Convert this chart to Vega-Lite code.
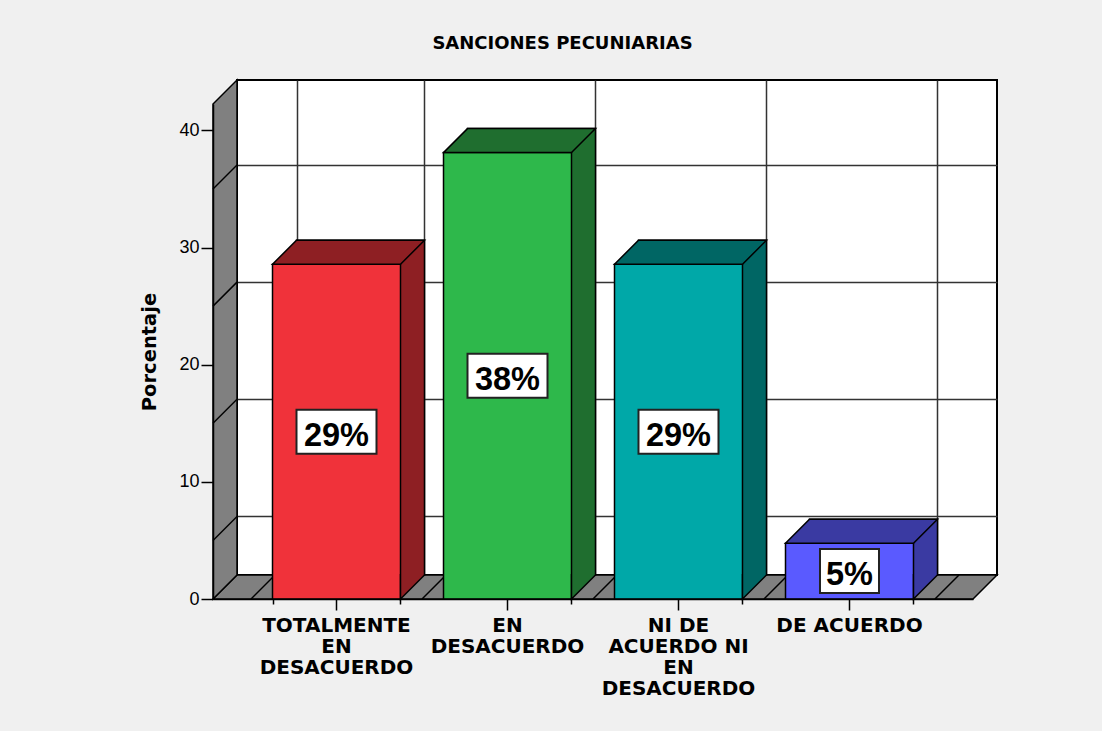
{
  "$schema": "https://vega.github.io/schema/vega-lite/v6.json",
  "width": 760,
  "height": 495,
  "autosize": "none",
  "padding": {"left": 237, "top": 80, "right": 105, "bottom": 156},
  "background": "#f0f0f0",
  "view": {"fill": "white", "stroke": "black", "strokeWidth": 2},
  "title": {"text": "SANCIONES PECUNIARIAS", "font": "DejaVu Sans", "fontSize": 18, "fontWeight": "bold", "color": "black", "anchor": "middle", "frame": "group", "dx": -54.5, "offset": 24},
  "datasets": {
    "respuestas": [
      {"respuesta": "TOTALMENTE EN DESACUERDO", "porcentaje": 28.57, "etiqueta": "29%"},
      {"respuesta": "EN DESACUERDO", "porcentaje": 38.1, "etiqueta": "38%"},
      {"respuesta": "NI DE ACUERDO NI EN DESACUERDO", "porcentaje": 28.57, "etiqueta": "29%"},
      {"respuesta": "DE ACUERDO", "porcentaje": 4.76, "etiqueta": "5%"}
    ],
    "niveles": [{"nivel": 5}, {"nivel": 15}, {"nivel": 25}, {"nivel": 35}],
    "marco": [{}]
  },
  "data": {"name": "respuestas"},
  "resolve": {"scale": {"y": "independent"}, "axis": {"x": "independent", "y": "independent"}},
  "layer": [
    {
      "data": {"name": "marco"},
      "mark": {"type": "point", "shape": "M0,0L760,0L736,24L-24,24Z", "size": 4, "filled": true, "fill": "#808080", "stroke": "black", "strokeWidth": 1.5, "opacity": 1},
      "encoding": {
        "x": {"value": 0},
        "y": {"datum": 0, "type": "quantitative", "scale": {"domain": [0, 42.25], "nice": false, "zero": true}, "axis": null}
      }
    },
    {
      "data": {"name": "marco"},
      "mark": {"type": "point", "shape": "M0,0L0,-495L-24,-471L-24,24Z", "size": 4, "filled": true, "fill": "#808080", "stroke": "black", "strokeWidth": 1.5, "opacity": 1},
      "encoding": {
        "x": {"value": 0},
        "y": {"datum": 0, "type": "quantitative", "scale": {"domain": [0, 42.25], "nice": false, "zero": true}, "axis": null}
      }
    },
    {
      "data": {"name": "niveles"},
      "mark": {"type": "point", "shape": "M0,0L-24,24", "size": 4, "filled": false, "stroke": "black", "strokeWidth": 1.5, "opacity": 1},
      "encoding": {
        "x": {"value": 0},
        "y": {"field": "nivel", "type": "quantitative", "scale": {"domain": [0, 42.25], "nice": false, "zero": true},
              "axis": {"orient": "left", "values": [5, 15, 25, 35], "grid": true, "gridColor": "#333333", "gridWidth": 1.5, "ticks": false, "labels": false, "domain": false, "title": null, "zindex": 0}}
      }
    },
    {
      "mark": {"type": "point", "shape": "M0,0L-24,24", "size": 4, "filled": false, "stroke": "black", "strokeWidth": 1.5, "opacity": 1, "xOffset": -85.5},
      "encoding": {
        "x": {"field": "respuesta", "type": "nominal",
              "scale": {"type": "band", "domain": ["TOTALMENTE EN DESACUERDO", "EN DESACUERDO", "NI DE ACUERDO NI EN DESACUERDO", "DE ACUERDO"], "paddingInner": 0.2515, "paddingOuter": 0.348},
              "axis": {"orient": "bottom", "tickBand": "extent", "grid": true, "gridColor": "#333333", "gridWidth": 1.5, "ticks": false, "labels": false, "domain": false, "title": null, "zindex": 0}},
        "y": {"datum": 0, "type": "quantitative", "scale": {"domain": [0, 42.25], "nice": false, "zero": true}, "axis": null}
      }
    },
    {
      "data": {"name": "marco"},
      "mark": {"type": "point", "shape": "M0,0L-24,24", "size": 4, "filled": false, "stroke": "black", "strokeWidth": 1.5, "opacity": 1, "xOffset": 85.5},
      "encoding": {
        "x": {"datum": "DE ACUERDO", "type": "nominal", "axis": null},
        "y": {"datum": 0, "type": "quantitative", "scale": {"domain": [0, 42.25], "nice": false, "zero": true}, "axis": null}
      }
    },
    {
      "mark": {"type": "bar", "stroke": "black", "strokeWidth": 1.5},
      "encoding": {
        "x": {"field": "respuesta", "type": "nominal",
              "axis": {"orient": "bottom", "tickBand": "extent", "ticks": true, "tickSize": 5, "tickColor": "black", "tickWidth": 1.5, "labels": false, "domain": false, "grid": false, "title": null, "translate": -23.5, "offset": 48, "zindex": 1}},
        "y": {"field": "porcentaje", "type": "quantitative", "scale": {"domain": [0, 42.25], "nice": false, "zero": true}, "axis": null},
        "y2": {"datum": 0},
        "fill": {"field": "respuesta", "type": "nominal", "scale": {"domain": ["TOTALMENTE EN DESACUERDO", "EN DESACUERDO", "NI DE ACUERDO NI EN DESACUERDO", "DE ACUERDO"], "range": ["#8e1f23", "#1f6e2f", "#006664", "#3a3aa2"]}, "legend": null}
      }
    },
    {
      "mark": {"type": "bar", "stroke": "black", "strokeWidth": 1.5, "xOffset": -24, "yOffset": 24, "y2Offset": 24},
      "encoding": {
        "x": {"field": "respuesta", "type": "nominal",
              "axis": {"orient": "bottom", "title": null, "translate": -23.5, "offset": 48, "tickSize": 11, "tickColor": "black", "tickWidth": 1.5, "domainColor": "black", "domainWidth": 1.5, "labelFont": "DejaVu Sans", "labelFontSize": 20, "labelFontWeight": "bold", "labelColor": "black", "labelPadding": 5, "labelLineHeight": 21, "labelAngle": 0, "labelLimit": 0, "grid": false, "zindex": 1,
                       "labelExpr": "datum.value == 'TOTALMENTE EN DESACUERDO' ? ['TOTALMENTE', 'EN', 'DESACUERDO'] : datum.value == 'EN DESACUERDO' ? ['EN', 'DESACUERDO'] : datum.value == 'NI DE ACUERDO NI EN DESACUERDO' ? ['NI DE', 'ACUERDO NI', 'EN', 'DESACUERDO'] : datum.label"}},
        "y": {"field": "porcentaje", "type": "quantitative", "scale": {"domain": [0, 42.25], "nice": false, "zero": true},
              "axis": {"orient": "left", "title": "Porcentaje", "translate": 24.5, "offset": 48, "values": [0, 10, 20, 30, 40], "tickSize": 12, "tickColor": "black", "tickWidth": 1.5, "domainColor": "black", "domainWidth": 1.5, "labelFont": "Liberation Sans", "labelFontSize": 18, "labelColor": "black", "labelPadding": 2, "titleFont": "DejaVu Sans", "titleFontSize": 19.5, "titleFontWeight": "bold", "titleColor": "black", "titlePadding": 19, "grid": false, "zindex": 1}},
        "y2": {"datum": 0},
        "color": {"field": "respuesta", "type": "nominal", "scale": {"domain": ["TOTALMENTE EN DESACUERDO", "EN DESACUERDO", "NI DE ACUERDO NI EN DESACUERDO", "DE ACUERDO"], "range": ["#f0323a", "#2eb84b", "#00a8a8", "#5a5aff"]}, "legend": null}
      }
    },
    {
      "mark": {"type": "point", "shape": "M-64,0L64,0L40,24L-88,24Z", "size": 4, "filled": true, "stroke": "black", "strokeWidth": 1.5, "opacity": 1},
      "encoding": {
        "x": {"field": "respuesta", "type": "nominal", "axis": null},
        "y": {"field": "porcentaje", "type": "quantitative", "scale": {"domain": [0, 42.25], "nice": false, "zero": true}, "axis": null},
        "fill": {"field": "respuesta", "type": "nominal", "legend": null}
      }
    },
    {
      "mark": {"type": "point", "shape": "M40,-1L40,24L64,0L64,-1", "size": 4, "filled": true, "stroke": "black", "strokeWidth": 1.5, "opacity": 1},
      "encoding": {
        "x": {"field": "respuesta", "type": "nominal", "axis": null},
        "y": {"datum": 0, "type": "quantitative", "scale": {"domain": [0, 42.25], "nice": false, "zero": true}, "axis": null},
        "fill": {"field": "respuesta", "type": "nominal", "legend": null}
      }
    },
    {
      "mark": {"type": "point", "size": 4, "filled": true, "fill": "white", "stroke": "#222222", "strokeWidth": 2, "opacity": 1, "xOffset": -24, "yOffset": 24},
      "encoding": {
        "x": {"field": "respuesta", "type": "nominal", "axis": null},
        "y": {"field": "porcentaje", "type": "quantitative", "scale": {"domain": [0, 84.5], "nice": false, "zero": true}, "axis": null},
        "shape": {"field": "etiqueta", "type": "nominal", "scale": {"domain": ["29%", "38%", "5%"], "range": ["M-40,-22H40V22H-40Z", "M-40,-22H40V22H-40Z", "M-29.5,-22H29.5V22H-29.5Z"]}, "legend": null}
      }
    },
    {
      "mark": {"type": "text", "font": "Liberation Sans", "fontSize": 32.5, "fontWeight": "bold", "color": "black", "align": "center", "baseline": "middle", "xOffset": -24, "yOffset": 28},
      "encoding": {
        "x": {"field": "respuesta", "type": "nominal", "axis": null},
        "y": {"field": "porcentaje", "type": "quantitative", "scale": {"domain": [0, 84.5], "nice": false, "zero": true}, "axis": null},
        "text": {"field": "etiqueta"}
      }
    }
  ]
}
